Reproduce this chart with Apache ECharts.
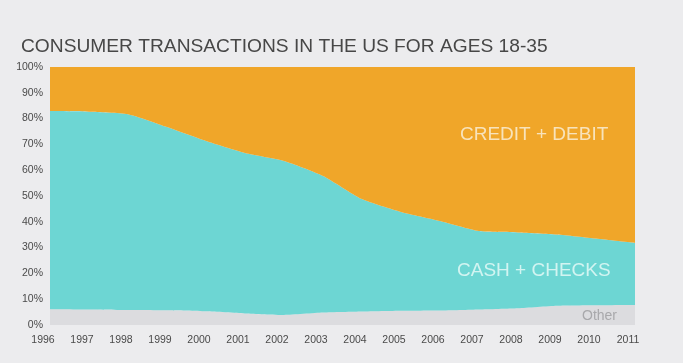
<!DOCTYPE html>
<html>
<head>
<meta charset="utf-8">
<script src="https://cdn.jsdelivr.net/npm/echarts@6/dist/echarts.min.js"></script>
<style>
html,body{margin:0;padding:0;background:#ececee;}
#chart{width:683px;height:363px;}
</style>
</head>
<body>
<div id="chart"></div>
<script>
var years = ['1996','1997','1998','1999','2000','2001','2002','2003','2004','2005','2006','2007','2008','2009','2010','2011'];
var other = [6.1, 6.0, 5.8, 5.7, 5.3, 4.5, 3.9, 4.8, 5.2, 5.5, 5.6, 6.0, 6.5, 7.5, 7.7, 7.8];
var cashChecks = [76.8, 76.7, 75.9, 71.0, 66.0, 62.2, 59.7, 53.0, 43.6, 38.3, 34.7, 30.4, 29.4, 27.6, 25.8, 24.0];
var creditDebit = [17.1, 17.3, 18.3, 23.3, 28.7, 33.3, 36.4, 42.2, 51.2, 56.2, 59.7, 63.6, 64.1, 64.9, 66.5, 68.2];
var yTicks = [0, 10, 20, 30, 40, 50, 60, 70, 80, 90, 100];

var chart = echarts.init(document.getElementById('chart'));
function areaSeries(name, data, color) {
  return {
    name: name, type: 'line', stack: 'total', data: data,
    symbol: 'none', smooth: 0.2,
    lineStyle: { width: 0 },
    areaStyle: { color: color, opacity: 1 },
    emphasis: { disabled: true }
  };
}
chart.setOption({
  backgroundColor: '#ececee',
  animation: false,
  title: {
    text: 'CONSUMER TRANSACTIONS IN THE US FOR AGES 18-35',
    left: 16, top: 32,
    textStyle: { fontFamily: 'Liberation Sans', fontWeight: 'normal', fontSize: 19.2, color: '#474747' }
  },
  grid: { left: 50, right: 48, top: 67, bottom: 38 },
  xAxis: {
    type: 'category', data: years, boundaryGap: false,
    axisLine: { show: false }, axisTick: { show: false },
    axisLabel: { color: '#4a4a4a', fontSize: 10.5, fontFamily: 'Liberation Sans', margin: 10, padding: [0, 14, 0, 0] }
  },
  yAxis: {
    type: 'value', min: yTicks[0], max: yTicks[yTicks.length - 1], interval: 10,
    splitLine: { show: false },
    axisLine: { show: false }, axisTick: { show: false },
    axisLabel: { formatter: '{value}%', color: '#4a4a4a', fontSize: 10.5, fontFamily: 'Liberation Sans', margin: 7 }
  },
  series: [
    areaSeries('Other', other, '#dcdcdf'),
    areaSeries('CASH + CHECKS', cashChecks, '#6dd6d3'),
    areaSeries('CREDIT + DEBIT', creditDebit, '#f0a629')
  ],
  graphic: [
    { type: 'text', z: 100, left: 460, top: 125, style: { text: 'CREDIT + DEBIT', fill: '#f8e3bb', fontSize: 19, fontFamily: 'Liberation Sans' } },
    { type: 'text', z: 100, left: 457, top: 261, style: { text: 'CASH + CHECKS', fill: '#d2f4f1', fontSize: 19, fontFamily: 'Liberation Sans' } },
    { type: 'text', z: 100, left: 582, top: 309, style: { text: 'Other', fill: '#a8a8ab', fontSize: 14, fontFamily: 'Liberation Sans' } }
  ]
});
</script>
</body>
</html>
